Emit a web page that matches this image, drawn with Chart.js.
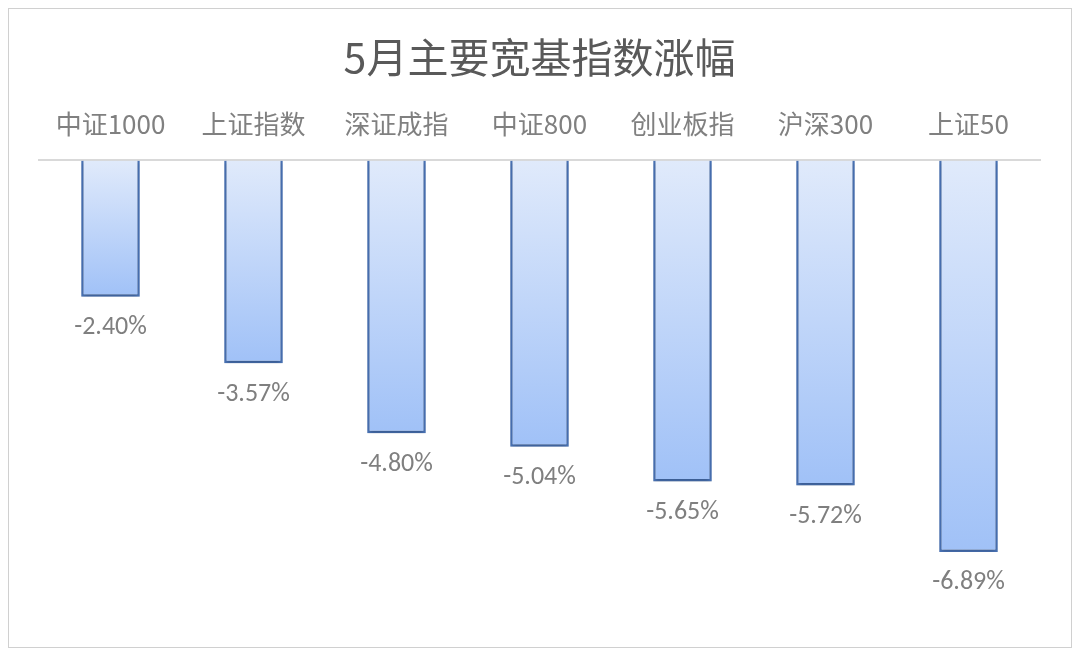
<!DOCTYPE html>
<html>
<head>
<meta charset="utf-8">
<script src="https://cdn.jsdelivr.net/npm/chart.js@4"></script>
<style>
  html, body { margin: 0; padding: 0; background: #fff; }
  #wrap { position: relative; width: 1080px; height: 660px; }
  #frame { position: absolute; left: 8px; top: 8px; width: 1062px; height: 638px; border: 1px solid #d0d0d0; pointer-events: none; }
</style>
</head>
<body>
<div id="wrap">
  <canvas id="chart" width="1080" height="660"></canvas>
  <div id="frame"></div>
</div>
<script>
// 指数名称和5月涨幅(%)
const categories = ["中证1000", "上证指数", "深证成指", "中证800", "创业板指", "沪深300", "上证50"];
const changes = [-2.40, -3.57, -4.80, -5.04, -5.65, -5.72, -6.89];

const fontCJK = '"Noto Sans CJK SC", "Noto Sans", sans-serif';
const fontNum = 'Carlito, "Liberation Sans", "Noto Sans", sans-serif';

// 每根柱子自上而下的渐变
function barGradient(context) {
  const chart = context.chart;
  if (!chart.chartArea) return '#c0d5f8';
  const y = chart.scales.y;
  const y0 = y.getPixelForValue(0);
  const y1 = y.getPixelForValue(context.raw);
  const g = chart.ctx.createLinearGradient(0, y0, 0, y1);
  g.addColorStop(0, '#e0eafb');
  g.addColorStop(1, '#a0c1f7');
  return g;
}

// 柱子下方的数值标签
const valueLabels = {
  id: 'valueLabels',
  afterDatasetsDraw(chart) {
    const ctx = chart.ctx;
    const meta = chart.getDatasetMeta(0);
    ctx.save();
    ctx.font = '26px ' + fontNum;
    ctx.fillStyle = '#7f7f7f';
    ctx.textAlign = 'center';
    ctx.textBaseline = 'middle';
    meta.data.forEach((bar, i) => {
      ctx.fillText(changes[i].toFixed(2) + '%', bar.x, bar.y + 31);
    });
    ctx.restore();
  }
};

// 柱子的淡阴影
const barShadow = {
  id: 'barShadow',
  beforeDatasetsDraw(chart) {
    const ctx = chart.ctx;
    ctx.save();
    ctx.shadowColor = 'rgba(0,0,0,0.25)';
    ctx.shadowBlur = 4;
    ctx.shadowOffsetY = 2;
  },
  afterDatasetsDraw(chart) {
    chart.ctx.restore();
  }
};

new Chart(document.getElementById('chart'), {
  type: 'bar',
  data: {
    labels: categories,
    datasets: [{
      data: changes,
      backgroundColor: barGradient,
      borderColor: '#4a74b8',
      borderWidth: 2.5,
      categoryPercentage: 1,
      barPercentage: 0.41
    }]
  },
  options: {
    responsive: false,
    animation: false,
    layout: { padding: { top: 0, left: 39, right: 40, bottom: 45 } },
    plugins: {
      legend: { display: false },
      tooltip: { enabled: false },
      title: {
        display: true,
        text: '5月主要宽基指数涨幅',
        color: '#595959',
        font: { family: fontCJK, size: 41, weight: 'normal' },
        padding: { top: 33, bottom: 5 }
      }
    },
    scales: {
      x: {
        position: 'top',
        grid: { display: false, drawTicks: false },
        border: { display: true, color: '#d9d9d9', width: 2 },
        ticks: {
          color: '#808080',
          padding: 21,
          font: { family: fontCJK, size: 26 }
        }
      },
      y: {
        display: false,
        min: -8,
        max: 0
      }
    }
  },
  plugins: [barShadow, valueLabels]
});
</script>
</body>
</html>
